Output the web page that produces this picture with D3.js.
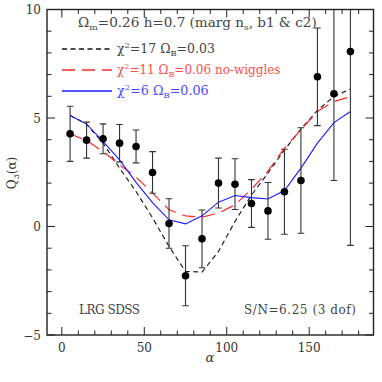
<!DOCTYPE html>
<html><head><meta charset="utf-8">
<script src="https://cdn.jsdelivr.net/npm/d3@7"></script>
<style>body{margin:0;background:#fff}svg{display:block}</style>
</head><body>
<svg id="c" width="382" height="382"></svg>
<script>
const alpha = [5,15,25,35,45,55,65,75,85,95,105,115,125,135,145,155,165,175];
const q3 = [4.27,3.98,4.04,3.84,3.69,2.49,0.14,-2.27,-0.57,2.0,1.95,1.06,0.72,1.60,2.12,6.90,6.12,8.06];
const q3err = [1.27,0.83,0.69,0.86,0.76,0.96,1.14,1.38,1.33,1.15,1.17,1.10,1.31,1.96,2.43,2.25,4.0,8.93];
const modelBlack = [5.12,4.72,3.84,2.69,1.61,0.40,-0.92,-2.07,-2.10,-1.15,0.23,1.45,2.46,3.53,4.49,5.35,5.99,6.33];
const modelRed = [4.27,3.96,3.46,2.84,2.28,1.54,0.77,0.49,0.43,0.62,1.00,1.72,2.55,3.61,4.46,5.30,5.76,5.99];
const modelBlue = [5.12,4.72,3.92,3.07,2.03,1.10,0.31,0.12,0.49,1.12,1.43,1.33,1.27,1.66,2.69,3.84,4.79,5.30];
const xTicks = [0,50,100,150];
const yTicks = [-5,0,5,10];
const legendLabels = ["17","11","6"];

const svg = d3.select("#c");
const L=47, T=9.5, R=373.5, B=335;
const x = d3.scaleLinear().domain([-9,189]).range([L,R]);
const y = d3.scaleLinear().domain([-5,10]).range([B,T]);
const serif = "'DejaVu Serif', serif";
const axisCol = "#222";

function stretch(sel, x0, s){
  sel.attr("transform", `translate(${x0},0) scale(${s},1) translate(${-x0},0)`);
}

svg.append("defs").append("clipPath").attr("id","clip")
  .append("rect").attr("x",L).attr("y",T).attr("width",R-L).attr("height",B-T);

const g = svg.append("g").attr("clip-path","url(#clip)");

// models
const line = d3.line().x((d,i)=>x(alpha[i])).y(d=>y(d));
g.append("path").datum(modelBlack).attr("d",line).attr("fill","none")
  .attr("stroke","#111").attr("stroke-width",1.1).attr("stroke-dasharray","5,3.5");
g.append("path").datum(modelRed).attr("d",line).attr("fill","none")
  .attr("stroke","#ff2a2a").attr("stroke-width",1.2).attr("stroke-dasharray","13,7");
g.append("path").datum(modelBlue).attr("d",line).attr("fill","none")
  .attr("stroke","#1a1aff").attr("stroke-width",1.1);

// error bars
const eb = g.append("g").attr("stroke","#333").attr("stroke-width",1.1);
alpha.forEach((a,i)=>{
  const cx=x(a), lo=y(q3[i]-q3err[i]), hi=y(q3[i]+q3err[i]);
  eb.append("line").attr("x1",cx).attr("x2",cx).attr("y1",lo).attr("y2",hi);
  eb.append("line").attr("x1",cx-3.3).attr("x2",cx+3.3).attr("y1",lo).attr("y2",lo);
  eb.append("line").attr("x1",cx-3.3).attr("x2",cx+3.3).attr("y1",hi).attr("y2",hi);
});
g.selectAll("circle.pt").data(q3).enter().append("circle")
  .attr("cx",(d,i)=>x(alpha[i])).attr("cy",d=>y(d)).attr("r",3.8).attr("fill","#000");

// frame
svg.append("rect").attr("x",L).attr("y",T).attr("width",R-L).attr("height",B-T)
  .attr("fill","none").attr("stroke",axisCol).attr("stroke-width",1.4);

// ticks
const tk = svg.append("g").attr("stroke",axisCol).attr("stroke-width",1);
d3.range(0,190,10).forEach(v=>{
  const len = v%50===0?8:4.5;
  tk.append("line").attr("x1",x(v)).attr("x2",x(v)).attr("y1",B).attr("y2",B-len);
  tk.append("line").attr("x1",x(v)).attr("x2",x(v)).attr("y1",T).attr("y2",T+len);
});
d3.range(-5,11,1).forEach(v=>{
  const len = v%5===0?8:4.5;
  tk.append("line").attr("y1",y(v)).attr("y2",y(v)).attr("x1",L).attr("x2",L+len);
  tk.append("line").attr("y1",y(v)).attr("y2",y(v)).attr("x1",R).attr("x2",R-len);
});

// tick labels
svg.selectAll("text.xt").data(xTicks).enter().append("text")
  .attr("x",d=>x(d)).attr("y",352).attr("text-anchor","middle")
  .attr("font-family",serif).attr("font-size",12).attr("fill","#333").text(d=>d);
svg.selectAll("text.yt").data(yTicks).enter().append("text")
  .attr("x",41).attr("y",d=>y(d)+4.5).attr("text-anchor","end")
  .attr("font-family",serif).attr("font-size",12).attr("fill","#333")
  .text(d=>d<0?"\u2212"+Math.abs(d):d);

// axis titles
svg.append("text").attr("x",210).attr("y",362).attr("text-anchor","middle")
  .attr("font-family",serif).attr("font-size",13).attr("font-style","italic").attr("fill","#333").text("\u03b1");
const yl = svg.append("text").attr("transform","translate(16,173) rotate(-90)")
  .attr("text-anchor","middle").attr("font-family",serif).attr("font-size",12).attr("fill","#333");
yl.append("tspan").text("Q");
yl.append("tspan").attr("font-size",8).attr("dy",3).text("3");
yl.append("tspan").attr("dy",-3).text("(\u03b1)");

// annotations
const t1 = svg.append("text").attr("x",78).attr("y",27).attr("font-family",serif)
  .attr("font-size",12).attr("fill","#444");
t1.append("tspan").text("\u03a9");
t1.append("tspan").attr("font-size",8).attr("dy",3).text("m");
t1.append("tspan").attr("dy",-3).text("=0.26 h=0.7 (marg n");
t1.append("tspan").attr("font-size",8).attr("dy",3).text("s");
t1.append("tspan").attr("dy",-3).text(", b1 & c2)");
stretch(t1, 78, 1.13);

const leg = [
  {col:"#111", tcol:"#444", dash:"5,3.5", y:49, ob:"=0.03", extra:"", s:1.04},
  {col:"#ff2a2a", tcol:"#ff4d4d", dash:"13,7", y:70, ob:"=0.06", extra:" no-wiggles", s:1.0},
  {col:"#1a1aff", tcol:"#4a4aff", dash:null, y:91, ob:"=0.06", extra:"", s:1.06}
];
leg.forEach((d,i)=>{
  svg.append("line").attr("x1",62).attr("x2",112).attr("y1",d.y).attr("y2",d.y)
    .attr("stroke",d.col).attr("stroke-width",1.3).attr("stroke-dasharray",d.dash);
  const t = svg.append("text").attr("x",117).attr("y",d.y+4).attr("font-family",serif)
    .attr("font-size",12).attr("fill",d.tcol);
  t.append("tspan").text("\u03c7");
  t.append("tspan").attr("font-size",8).attr("dy",-5).text("2");
  t.append("tspan").attr("dy",5).text("="+legendLabels[i]+" \u03a9");
  t.append("tspan").attr("font-size",8).attr("dy",3).text("B");
  t.append("tspan").attr("dy",-3).text(d.ob+d.extra);
  stretch(t, 117, d.s);
});

svg.append("text").attr("x",79).attr("y",314).attr("font-family",serif)
  .attr("font-size",12).attr("fill","#444")
  .attr("textLength",61).attr("lengthAdjust","spacing").text("LRG SDSS");
svg.append("text").attr("x",244).attr("y",314).attr("font-family",serif)
  .attr("font-size",12).attr("fill","#444")
  .attr("textLength",112).attr("lengthAdjust","spacing").text("S/N=6.25 (3 dof)");
</script>
</body></html>
